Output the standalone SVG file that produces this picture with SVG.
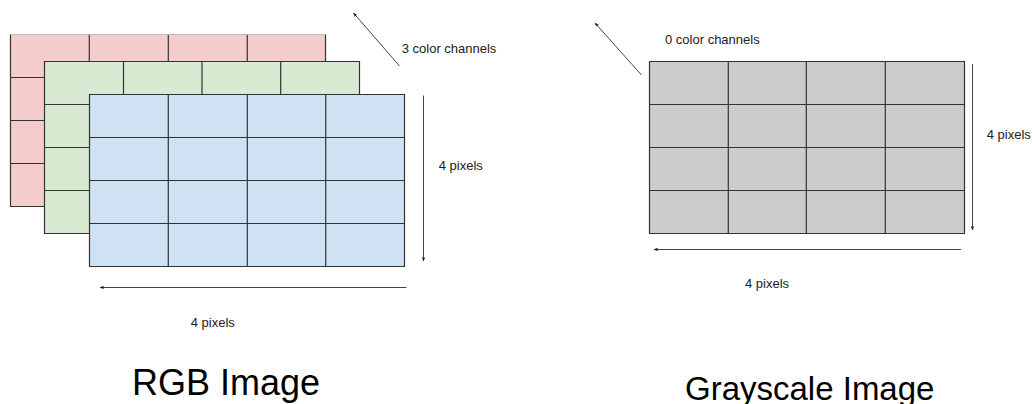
<svg xmlns="http://www.w3.org/2000/svg" width="1032" height="404" viewBox="0 0 1032 404">
<defs>
<style>
.grid{stroke:#333333;stroke-width:1.2;fill:none}
.conn{stroke:#444444;stroke-width:1;fill:none}
.lbl{font-family:"Liberation Sans",Arial,sans-serif;font-size:13px;fill:#222222}
.title{font-family:"Liberation Sans",Arial,sans-serif;fill:#000000}
</style>
<marker id="ah" viewBox="0 0 10 10" refX="9" refY="5" markerWidth="4" markerHeight="4" orient="auto" markerUnits="userSpaceOnUse">
<path d="M0,1 L10,5 L0,9 Z" fill="#222222"/>
</marker>
</defs>
<rect width="1032" height="404" fill="#ffffff"/>

<g id="red-channel">
<rect x="10.5" y="34.5" width="315" height="172" fill="#f4cccc"/>
<path class="grid" d="M10.5,34.5 V206.5 H325.5 V34.5 M89.3,34.5 V206.5 M168.3,34.5 V206.5 M247.3,34.5 V206.5 M10.5,77.5 H325.5 M10.5,120.5 H325.5 M10.5,163.5 H325.5"/>
<path d="M10.5,34.5 H325.5" stroke="#bbbbbb" stroke-width="1.2"/>
</g>

<g id="green-channel">
<rect x="44.5" y="61.5" width="315" height="172" fill="#d9ead3"/>
<path class="grid" d="M44.5,61.5 H359.5 V233.5 H44.5 Z M123.5,61.5 V233.5 M202,61.5 V233.5 M280.7,61.5 V233.5 M44.5,104.5 H359.5 M44.5,147.5 H359.5 M44.5,190.5 H359.5"/>
</g>

<g id="blue-channel">
<rect x="89.5" y="94.5" width="315" height="172" fill="#cfe2f3"/>
<path class="grid" d="M89.5,94.5 H404.5 V266.5 H89.5 Z M168.3,94.5 V266.5 M247.3,94.5 V266.5 M325.7,94.5 V266.5 M89.5,137.5 H404.5 M89.5,180.5 H404.5 M89.5,223.5 H404.5"/>
</g>

<g id="grayscale-channel">
<rect x="649.5" y="61.5" width="315" height="172" fill="#cccccc"/>
<path class="grid" d="M649.5,61.5 H964.5 V233.5 H649.5 Z M728.3,61.5 V233.5 M806.3,61.5 V233.5 M885.3,61.5 V233.5 M649.5,104.5 H964.5 M649.5,147.5 H964.5 M649.5,190.5 H964.5"/>
</g>

<g id="connectors">
<line class="conn" x1="399.5" y1="66" x2="353.5" y2="13" marker-end="url(#ah)"/>
<line class="conn" x1="423.5" y1="95.5" x2="423.5" y2="261" marker-end="url(#ah)"/>
<line class="conn" x1="406.5" y1="287.5" x2="100" y2="287.5" marker-end="url(#ah)"/>
<line class="conn" x1="641.5" y1="75" x2="595" y2="23" marker-end="url(#ah)"/>
<line class="conn" x1="972.5" y1="64" x2="972.5" y2="230" marker-end="url(#ah)"/>
<line class="conn" x1="961" y1="249.5" x2="654" y2="249.5" marker-end="url(#ah)"/>
</g>

<g id="labels">
<text class="lbl" x="401.7" y="53">3 color channels</text>
<text class="lbl" x="438.7" y="170">4 pixels</text>
<text class="lbl" x="190.7" y="327">4 pixels</text>
<text class="lbl" x="665" y="44">0 color channels</text>
<text class="lbl" x="986.7" y="139">4 pixels</text>
<text class="lbl" x="745" y="288">4 pixels</text>
<text class="title" x="132" y="395" font-size="36">RGB Image</text>
<text class="title" x="685" y="400" font-size="33">Grayscale Image</text>
</g>
</svg>
